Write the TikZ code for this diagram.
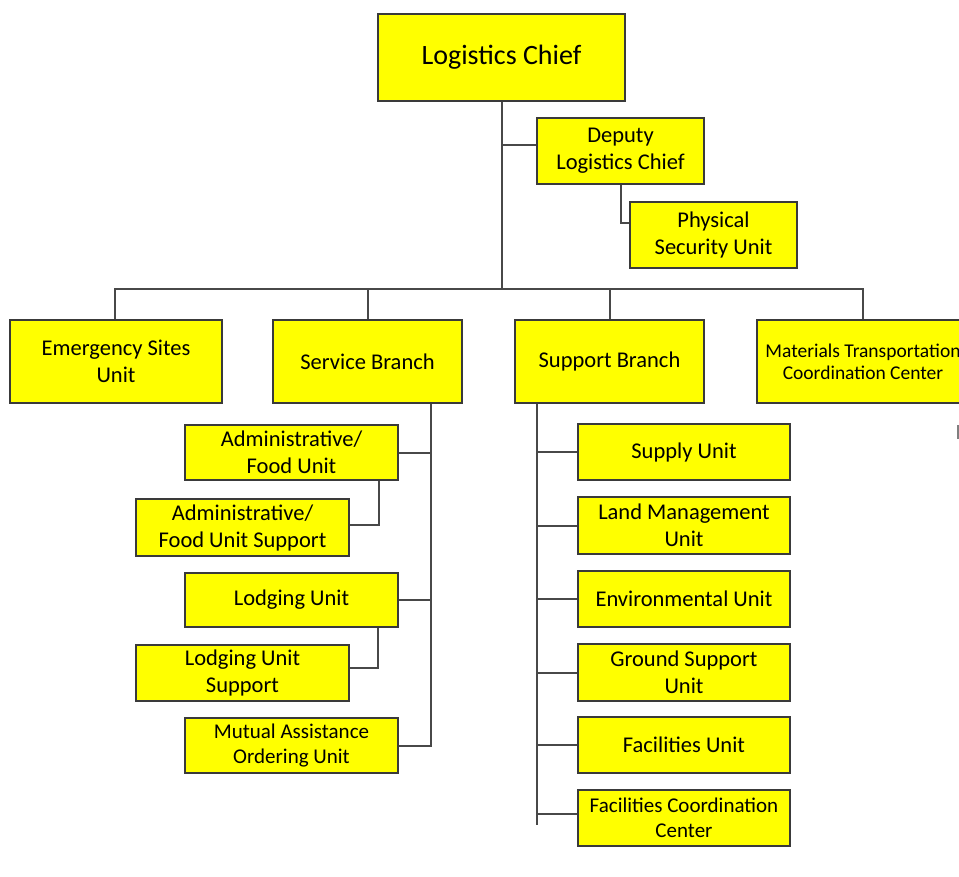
\documentclass[tikz,border=0pt]{standalone}
\usepackage{fontspec}
\setmainfont{Carlito}
\definecolor{boxfill}{HTML}{FFFF00}
\definecolor{boxline}{HTML}{3A3A3A}
\definecolor{linkgray}{HTML}{484848}
\tikzset{
  x=1pt, y=-1pt,
  unit/.style={draw=boxline, fill=boxfill, line width=1.6pt, align=center,
    inner sep=0pt, text=black},
  link/.style={draw=linkgray, line width=2pt},
  bigtxt/.style={font=\fontsize{28}{34}\selectfont},
  midtxt/.style={font=\fontsize{22.5}{27}\selectfont},
  smalltxt/.style={font=\fontsize{21}{25}\selectfont},
  tinytxt/.style={font=\fontsize{19.5}{22}\selectfont},
}
\begin{document}
\begin{tikzpicture}
\useasboundingbox (0,0) rectangle (959,876);

% top of the chart
\node[unit, bigtxt, minimum width=247, minimum height=87] (chief) at (501.5,57.5) {Logistics Chief};
\node[unit, midtxt, minimum width=167, minimum height=66] (deputy) at (620.5,151) {Deputy\\Logistics Chief};
\node[unit, midtxt, minimum width=167, minimum height=66] (physical) at (713.5,235) {Physical\\Security Unit};

% first level
\node[unit, midtxt, minimum width=212, minimum height=83] (emerg) at (116,361.5) {Emergency Sites\\Unit};
\node[unit, midtxt, minimum width=189, minimum height=83] (service) at (367.5,361.5) {Service Branch};
\node[unit, midtxt, minimum width=189, minimum height=83] (support) at (609.5,361.5) {Support Branch};
\node[unit, tinytxt, minimum width=212, minimum height=83] (materials) at (863,361.5) {Materials Transportation\\Coordination Center};

% service branch units
\node[unit, midtxt, minimum width=213, minimum height=55] (adminfood) at (291.5,452.5) {Administrative/\\Food Unit};
\node[unit, midtxt, minimum width=213, minimum height=57] (adminsupp) at (242.5,527.5) {Administrative/\\Food Unit Support};
\node[unit, midtxt, minimum width=213, minimum height=54] (lodging) at (291.5,600) {Lodging Unit};
\node[unit, midtxt, minimum width=213, minimum height=56] (lodgsupp) at (242.5,673) {Lodging Unit\\Support};
\node[unit, smalltxt, minimum width=213, minimum height=55] (mutual) at (291.5,745.5) {Mutual Assistance\\Ordering Unit};

% support branch units
\node[unit, midtxt, minimum width=212, minimum height=56] (supply) at (684,452) {Supply Unit};
\node[unit, midtxt, minimum width=212, minimum height=57] (land) at (684,525.5) {Land Management\\Unit};
\node[unit, midtxt, minimum width=212, minimum height=56] (env) at (684,599) {Environmental Unit};
\node[unit, midtxt, minimum width=212, minimum height=57] (ground) at (684,672.5) {Ground Support\\Unit};
\node[unit, midtxt, minimum width=212, minimum height=56] (facil) at (684,745) {Facilities Unit};
\node[unit, smalltxt, minimum width=212, minimum height=56] (fcc) at (684,818) {Facilities Coordination\\Center};

% connectors
\coordinate (bus) at (501.5,289);
\draw[link] (chief.south) -- (bus);
\draw[link] ([xshift=-1]emerg.north) |- (bus) -| (materials.north);
\draw[link] (service.north) -- (service.north |- bus);
\draw[link] (support.north) -- (support.north |- bus);
\draw[link] ([yshift=6]deputy.west) -- ([yshift=6]deputy.west -| chief.south);
\draw[link] (deputy.south) |- ([yshift=12]physical.west);

\coordinate (svc) at ([xshift=63.5]service.south);
\draw[link] (svc) |- (mutual.east);
\draw[link] (adminfood.east) -- (adminfood.east -| svc);
\draw[link] (lodging.east) -- (lodging.east -| svc);
\draw[link] ([xshift=87.5]adminfood.south) |- ([yshift=2.5]adminsupp.east);
\draw[link] ([xshift=86.5]lodging.south) |- ([yshift=5]lodgsupp.east);

\coordinate (spt) at ([xshift=-72.5]support.south);
\coordinate (sptend) at (537,825);
\draw[link] (spt) -- (sptend);
\foreach \u in {supply,land,env,ground,facil}
  \draw[link] (\u.west) -- (\u.west -| spt);
\draw[link] ([yshift=4]fcc.west) -- ([yshift=4]fcc.west -| spt);

% edge of a shape beyond the right border
\draw[link, linkgray!70] (957.5,425) -- (957.5,439);
\end{tikzpicture}
\end{document}
